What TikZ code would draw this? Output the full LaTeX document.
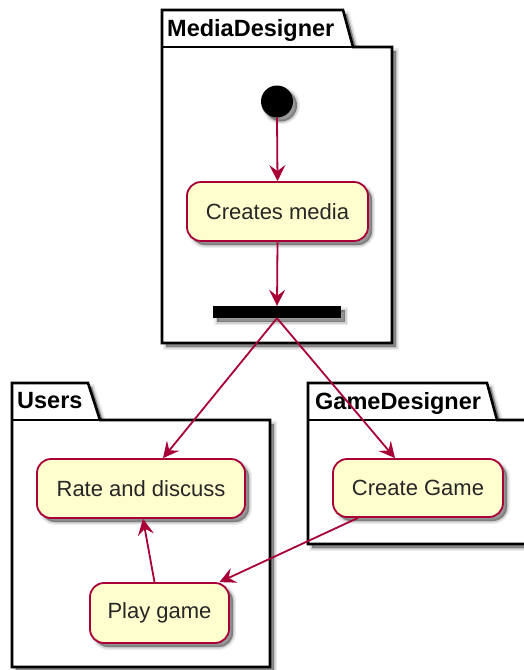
\documentclass[tikz,border=0pt]{standalone}
\usepackage{fontspec}
\setmainfont{Liberation Sans}
\usetikzlibrary{arrows.meta,calc,shadows}
\definecolor{umlred}{HTML}{A80036}
\definecolor{umlfill}{HTML}{FEFECE}
\tikzset{
  % soft drop shadow built from three stacked translucent layers
  softshadow/.style={
    general shadow={shadow xshift=4pt, shadow yshift=-4pt, draw=black,
        fill=black, line width=6pt, opacity=0.07},
    general shadow={shadow xshift=4pt, shadow yshift=-4pt, draw=black,
        fill=black, line width=3pt, opacity=0.12},
    general shadow={shadow xshift=4pt, shadow yshift=-4pt,
        fill=black, opacity=0.25}},
  action/.style={draw=umlred, fill=umlfill, line width=1.8pt,
      rounded corners=14pt, inner sep=0pt,
      font=\fontsize{22}{26}\selectfont, text=black!85, softshadow},
  flow/.style={draw=umlred, line width=1.8pt,
      -{Stealth[length=16pt,width=16pt,inset=6pt]}},
  pkg/.style={draw=black, fill=white, line width=2.6pt, softshadow},
  pkgline/.style={draw=black, line width=2.6pt},
  pkgtitle/.style={font=\bfseries\fontsize{23.5}{28}\selectfont,
      anchor=base west, inner sep=0pt},
}
\begin{document}
\begin{tikzpicture}[x=1pt,y=-1pt]
\useasboundingbox (0,0) rectangle (524,670);
\clip (0,0) rectangle (524,670);

% packages
\draw[pkg] (162,10) -- (343,10) -- (353,47) -- (392,47) -- (392,343)
  -- (162,343) -- cycle;
\draw[pkgline] (162,47) -- (353,47);
\node[pkgtitle] (mdtitle) at (167,36) {MediaDesigner};

\draw[pkg] (12,383) -- (88,383) -- (100,420) -- (270,420) -- (270,667)
  -- (12,667) -- cycle;
\draw[pkgline] (12,420) -- (100,420);
\node[pkgtitle] (ustitle) at (17,408) {Users};

\draw[pkg] (308,383) -- (487,383) -- (497,420) -- (545,420) -- (545,544)
  -- (308,544) -- cycle;
\draw[pkgline] (308,420) -- (497,420);
\node[pkgtitle] (gdtitle) at (315,409) {GameDesigner};

% activity nodes
\node[circle, fill=black, minimum size=32pt, inner sep=0pt, softshadow]
  (start) at (277,101.5) {};
\node[action, minimum width=181pt, minimum height=59pt]
  (cm) at (277.5,211.5) {Creates media};
\node[rectangle, fill=black, minimum width=128pt, minimum height=12pt,
  inner sep=0pt, softshadow] (fork) at (277,312) {};
\node[action, minimum width=208pt, minimum height=59pt]
  (rd) at (141,488.5) {Rate and discuss};
\node[action, minimum width=170pt, minimum height=58pt]
  (cg) at (418,488) {Create Game};
\node[action, minimum width=139pt, minimum height=60pt]
  (pg) at (159.5,613) {Play game};

% control flow
\draw[flow] (start.south) -- (cm.north);
\draw[flow] (cm.south) -- (fork.north);
\draw[flow] (fork.south) -- ([xshift=22pt]rd.north);
\draw[flow] (fork.south) -- ([xshift=-23pt]cg.north);
\draw[flow] ([xshift=-60pt]cg.south) -- ([xshift=60pt]pg.north);
\draw[flow] ([xshift=-5pt]pg.north) -- ([xshift=2pt]rd.south);
\end{tikzpicture}
\end{document}
